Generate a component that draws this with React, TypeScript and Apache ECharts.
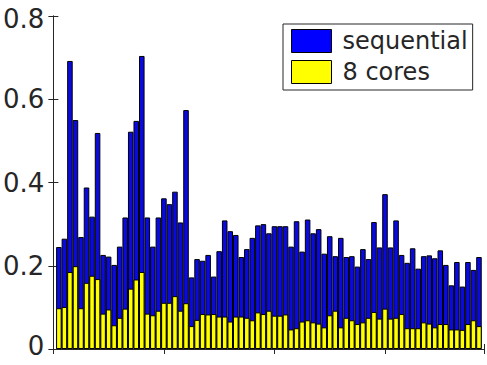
import React, { useEffect, useRef } from "react";
import * as echarts from "echarts";

const seriesNames = ["sequential", "8 cores"];

const sequential = [
  0.245, 0.265, 0.692, 0.55, 0.269, 0.388, 0.318, 0.519, 0.226, 0.222,
  0.202, 0.246, 0.316, 0.522, 0.548, 0.704, 0.316, 0.246, 0.316, 0.362,
  0.348, 0.378, 0.304, 0.574, 0.172, 0.216, 0.212, 0.226, 0.174, 0.235,
  0.309, 0.283, 0.274, 0.221, 0.24, 0.267, 0.297, 0.3, 0.278, 0.295,
  0.295, 0.295, 0.246, 0.307, 0.234, 0.311, 0.278, 0.288, 0.229, 0.271,
  0.223, 0.267, 0.221, 0.223, 0.198, 0.24, 0.216, 0.305, 0.244, 0.372,
  0.244, 0.309, 0.226, 0.207, 0.242, 0.193, 0.223, 0.225, 0.218, 0.237,
  0.202, 0.153, 0.209, 0.15, 0.209, 0.19, 0.221,
];

const cores8 = [
  0.098, 0.101, 0.185, 0.199, 0.098, 0.159, 0.176, 0.168, 0.085, 0.095,
  0.057, 0.075, 0.097, 0.145, 0.167, 0.185, 0.085, 0.081, 0.092, 0.111,
  0.111, 0.127, 0.092, 0.11, 0.055, 0.07, 0.084, 0.083, 0.084, 0.078,
  0.078, 0.066, 0.078, 0.078, 0.075, 0.069, 0.088, 0.084, 0.092, 0.08,
  0.08, 0.083, 0.047, 0.05, 0.066, 0.069, 0.064, 0.061, 0.052, 0.081,
  0.092, 0.052, 0.075, 0.069, 0.06, 0.064, 0.075, 0.089, 0.073, 0.097,
  0.073, 0.075, 0.084, 0.05, 0.05, 0.05, 0.064, 0.061, 0.052, 0.06,
  0.06, 0.047, 0.047, 0.046, 0.06, 0.069, 0.055,
];

const xMin = 0;
const xMax = 78;
const xInterval = 20;
const yMin = 0;
const yMax = 0.8;
const yInterval = 0.2;

const AXIS = "#262626";
const FONT = "DejaVu Sans";
const TICK_FONT = 26;

export default function App() {
  const ref = useRef<HTMLDivElement>(null);
  useEffect(() => {
    if (!ref.current) return;
    const chart = echarts.init(ref.current, null, { renderer: "svg" });
    const tickStyle = { show: true, inside: true, length: 5, lineStyle: { color: AXIS, width: 1 } };
    const lineStyle = { show: true, lineStyle: { color: AXIS, width: 1 } };
    const xBase = {
      type: "value" as const,
      min: xMin,
      max: xMax,
      interval: xInterval,
      axisLine: lineStyle,
      axisTick: tickStyle,
      axisLabel: { show: false },
      splitLine: { show: false },
    };
    const yBase = {
      type: "value" as const,
      min: yMin,
      max: yMax,
      interval: yInterval,
      axisLine: lineStyle,
      axisTick: tickStyle,
      splitLine: { show: false },
    };
    const richBase = { fontFamily: FONT, fontSize: TICK_FONT, color: AXIS, lineHeight: 24 };
    chart.setOption({
      animation: false,
      backgroundColor: "#ffffff",
      grid: { left: 52, right: 2.5, top: 10, bottom: 11, containLabel: false },
      legend: {
        orient: "vertical",
        left: 283,
        top: 24,
        padding: [5, 5, 6, 8],
        itemWidth: 40,
        itemHeight: 23,
        itemGap: 7,
        borderColor: AXIS,
        borderWidth: 1,
        backgroundColor: "#ffffff",
        icon: "rect",
        textStyle: { fontFamily: FONT, fontSize: 24, color: AXIS, padding: [0, 0, 0, 6] },
        data: [
          { name: seriesNames[0], itemStyle: { color: "#0000ff", borderColor: "#000", borderWidth: 1 } },
          { name: seriesNames[1], itemStyle: { color: "#ffff00", borderColor: "#000", borderWidth: 1 } },
        ],
      },
      xAxis: [
        { ...xBase, position: "bottom" },
        { ...xBase, position: "top" },
      ],
      yAxis: [
        {
          ...yBase,
          position: "left",
          axisLabel: {
            show: true,
            margin: 9,
            fontFamily: FONT,
            fontSize: TICK_FONT,
            color: AXIS,
            formatter: (v: number) => {
              if (v === 0) return "{b|0}";
              if (Math.abs(v - yMax) < 1e-9) return "{t|" + v.toFixed(1) + "}";
              return "{m|" + v.toFixed(1) + "}";
            },
            rich: {
              t: { ...richBase, padding: [6, 0, 0, 0] },
              m: { ...richBase },
              b: { ...richBase, padding: [0, 0, 6, 0] },
            },
          },
        },
        { ...yBase, position: "right", axisLabel: { show: false } },
      ],
      series: [
        {
          name: seriesNames[0],
          type: "bar",
          xAxisIndex: 0,
          yAxisIndex: 0,
          barWidth: 5.55,
          barGap: "-100%",
          itemStyle: { color: "#0a0ae0", borderColor: "#000", borderWidth: 1 },
          data: sequential.map((v, i) => [i + 1, v]),
        },
        {
          name: seriesNames[1],
          type: "bar",
          xAxisIndex: 0,
          yAxisIndex: 0,
          barWidth: 5.55,
          barGap: "-100%",
          itemStyle: { color: "#ffff00", borderColor: "#000", borderWidth: 1 },
          data: cores8.map((v, i) => [i + 1, v]),
        },
      ],
    });
    return () => chart.dispose();
  }, []);
  return (
    <div
      ref={ref}
      style={{ position: "absolute", left: 0, top: 0, width: 487, height: 365 }}
    />
  );
}
